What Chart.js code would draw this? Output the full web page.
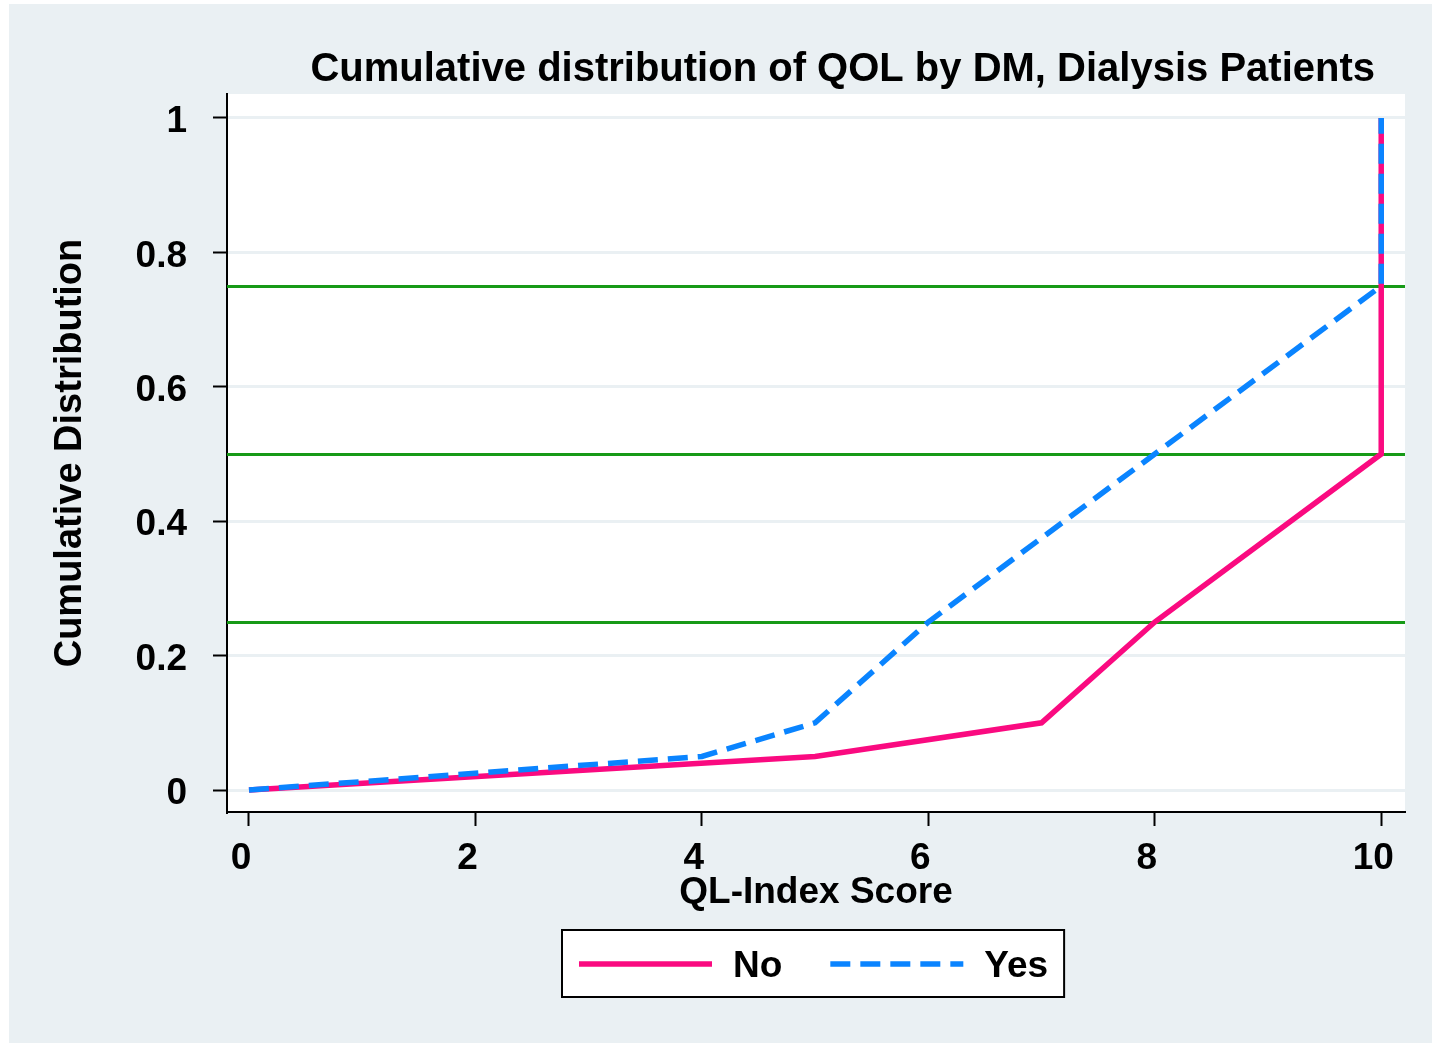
<!DOCTYPE html>
<html>
<head>
<meta charset="utf-8">
<title>Cumulative distribution of QOL by DM</title>
<script src="https://cdn.jsdelivr.net/npm/chart.js@4.4.1/dist/chart.umd.min.js"></script>
<style>
    html, body { margin: 0; padding: 0; background: #ffffff; }
    #wrap { width: 1432px; height: 1043px; position: relative; }
</style>
</head>
<body>
<div id="wrap"><canvas id="cdfChart"></canvas></div>
<script>
// Données
const xTicks = [0, 2, 4, 6, 8, 10];
const yTicks = [0, 0.2, 0.4, 0.6, 0.8, 1];
const seriesLabels = ['No', 'Yes'];
const noScore = [0, 5, 7, 8, 10, 10];
const noCum = [0, 0.05, 0.1, 0.25, 0.5, 1];
const yesScore = [0, 4, 5, 6, 7, 8, 10, 10];
const yesCum = [0, 0.05, 0.1, 0.25, 0.375, 0.5, 0.75, 1];
const refLines = [0.25, 0.5, 0.75];

const FONT = '"Liberation Sans", Arial, Helvetica, sans-serif';
const BG = '#eaf0f3';

function toPoints(xs, ys) {
    return xs.map((x, i) => ({ x: x, y: ys[i] }));
}

// fond de page et zone du graphique
const backgroundPlugin = {
    id: 'stataBackground',
    beforeDraw(chart) {
        const ctx = chart.ctx;
        const a = chart.chartArea;
        ctx.save();
        ctx.fillStyle = '#ffffff';
        ctx.fillRect(0, 0, chart.width, chart.height);
        ctx.fillStyle = BG;
        ctx.fillRect(9, 4, chart.width - 9, chart.height - 4);
        ctx.fillStyle = '#ffffff';
        ctx.fillRect(a.left, a.top, a.right - a.left, a.bottom - a.top);
        ctx.restore();
    }
};

// lignes de référence vertes (quartiles)
const refLinePlugin = {
    id: 'refLines',
    beforeDatasetsDraw(chart) {
        const ctx = chart.ctx;
        const a = chart.chartArea;
        const yScale = chart.scales.y;
        ctx.save();
        ctx.strokeStyle = '#179a17';
        ctx.lineWidth = 3;
        refLines.forEach(v => {
            const py = Math.round(yScale.getPixelForValue(v)) + 0.5;
            ctx.beginPath();
            ctx.moveTo(a.left, py);
            ctx.lineTo(a.right, py);
            ctx.stroke();
        });
        ctx.restore();
    }
};

// titre + légende encadrée
const titleLegendPlugin = {
    id: 'titleLegend',
    afterDraw(chart) {
        const ctx = chart.ctx;
        const a = chart.chartArea;
        ctx.save();
        ctx.fillStyle = '#000000';
        ctx.font = 'bold 40px ' + FONT;
        ctx.textAlign = 'right';
        ctx.textBaseline = 'middle';
        ctx.fillText('Cumulative distribution of QOL by DM, Dialysis Patients', a.right - 30, 70);

        // légende
        ctx.font = 'bold 37px ' + FONT;
        const lineLen = 133, gapText = 21, gapItem = 48, padL = 17, padR = 16;
        const items = chart.data.datasets.map(ds => ({ ds: ds, w: ctx.measureText(ds.label).width }));
        let total = padL + padR;
        items.forEach((it, i) => { total += lineLen + gapText + it.w + (i < items.length - 1 ? gapItem : 0); });
        const boxLeft = Math.round((a.left + a.right) / 2 - total / 2) - 3;
        const boxTop = 930, boxH = 67;
        ctx.fillStyle = '#ffffff';
        ctx.fillRect(boxLeft, boxTop, total, boxH);
        ctx.strokeStyle = '#000000';
        ctx.lineWidth = 2;
        ctx.strokeRect(boxLeft, boxTop, total, boxH);

        const cy = boxTop + 34;
        let x = boxLeft + padL;
        items.forEach(it => {
            ctx.beginPath();
            ctx.setLineDash(it.ds.borderDash || []);
            ctx.strokeStyle = it.ds.borderColor;
            ctx.lineWidth = it.ds.borderWidth;
            ctx.moveTo(x, cy);
            ctx.lineTo(x + lineLen, cy);
            ctx.stroke();
            ctx.setLineDash([]);
            x += lineLen + gapText;
            ctx.fillStyle = '#000000';
            ctx.textAlign = 'left';
            ctx.fillText(it.ds.label, x, cy + 3);
            x += it.w + gapItem;
        });
        ctx.restore();
    }
};

const ctx = document.getElementById('cdfChart');
window.cdfChart = new Chart(ctx.getContext('2d'), {
    type: 'line',
    data: {
        datasets: [{
            label: seriesLabels[0],
            data: toPoints(noScore, noCum),
            borderColor: '#fa0a80',
            borderWidth: 5.5,
            pointRadius: 0,
            tension: 0,
            fill: false,
            order: 1
        }, {
            label: seriesLabels[1],
            data: toPoints(yesScore, yesCum),
            borderColor: '#0a84ff',
            borderWidth: 5.5,
            borderDash: [20, 10],
            pointRadius: 0,
            tension: 0,
            fill: false,
            order: 0
        }]
    },
    options: {
        responsive: true,
        maintainAspectRatio: false,
        animation: false,
        devicePixelRatio: 1,
        layout: { padding: { top: 94, right: 27, bottom: 121, left: 0 } },
        plugins: {
            legend: { display: false },
            title: { display: false },
            tooltip: { enabled: false }
        },
        scales: {
            x: {
                type: 'linear',
                min: -0.194,
                max: 10.21,
                afterBuildTicks: scale => { scale.ticks = xTicks.map(v => ({ value: v })); },
                afterFit: scale => { scale.height = 110; },
                border: { display: true, color: '#000000', width: 2 },
                grid: {
                    drawOnChartArea: false,
                    drawTicks: true,
                    tickLength: 14,
                    tickWidth: 2,
                    tickColor: '#000000'
                },
                ticks: {
                    padding: 11,
                    labelOffset: -8,
                    color: '#000000',
                    font: { family: FONT, size: 37, weight: 'bold' },
                    callback: v => String(v)
                },
                title: {
                    display: true,
                    text: 'QL-Index Score',
                    color: '#000000',
                    font: { family: FONT, size: 37, weight: 'bold' },
                    padding: { top: 0, bottom: 7 }
                }
            },
            y: {
                type: 'linear',
                min: -0.0327,
                max: 1.0357,
                afterBuildTicks: scale => { scale.ticks = yTicks.map(v => ({ value: v })); },
                afterFit: scale => { scale.width = 227; },
                border: { display: true, color: '#000000', width: 2 },
                grid: {
                    color: '#eaf0f3',
                    lineWidth: 3,
                    drawTicks: true,
                    tickLength: 14,
                    tickWidth: 2,
                    tickColor: '#000000'
                },
                ticks: {
                    padding: 26,
                    labelOffset: 4,
                    color: '#000000',
                    font: { family: FONT, size: 37, weight: 'bold' },
                    callback: v => String(v)
                },
                title: {
                    display: true,
                    text: 'Cumulative Distribution',
                    color: '#000000',
                    font: { family: FONT, size: 38, weight: 'bold' },
                    padding: { top: 48, bottom: 0 }
                }
            }
        }
    },
    plugins: [backgroundPlugin, refLinePlugin, titleLegendPlugin]
});
</script>
</body>
</html>
